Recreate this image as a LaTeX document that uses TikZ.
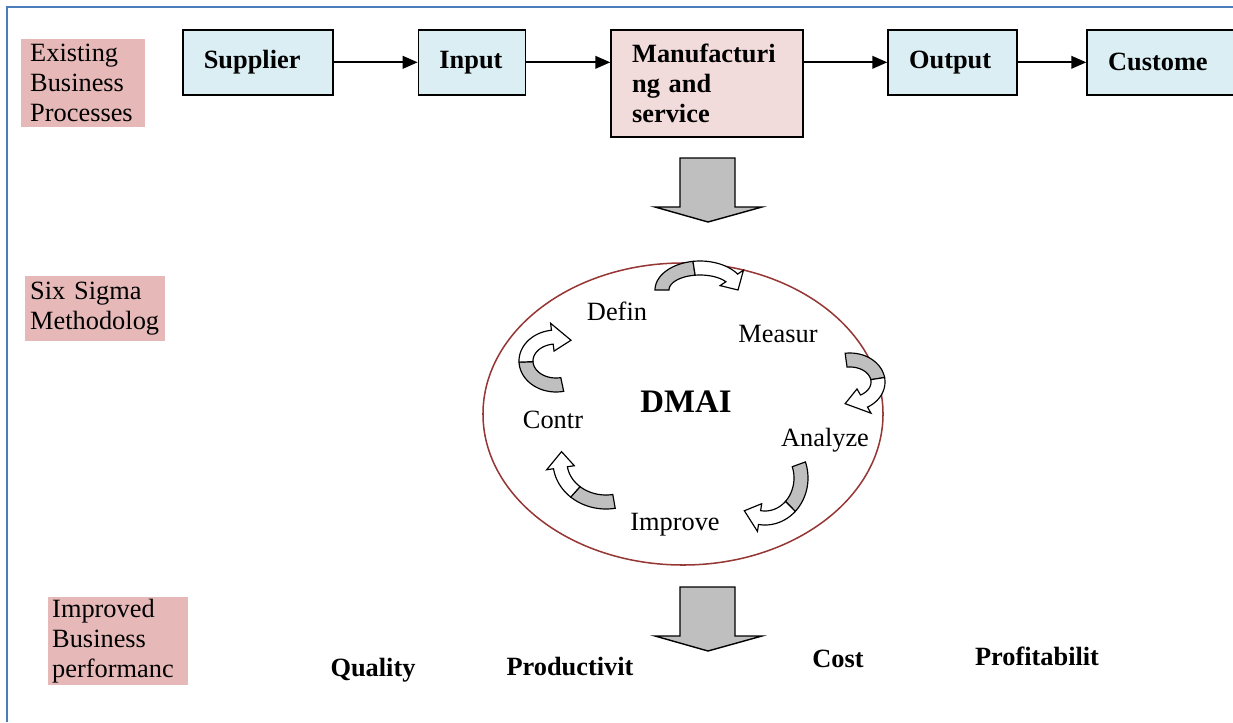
\documentclass[tikz,border=0pt]{standalone}
\usepackage{fontspec}
\setmainfont{Liberation Serif}
\usetikzlibrary{arrows.meta,positioning,shapes.geometric}
\definecolor{lblpink}{HTML}{E6B9B8}
\definecolor{procblue}{HTML}{DBEEF4}
\definecolor{mfgpink}{HTML}{F2DCDB}
\definecolor{ellred}{HTML}{953735}
\definecolor{framblue}{HTML}{4A7EBB}
\definecolor{arrgray}{HTML}{BFBFBF}
\newcommand{\basefont}{\fontsize{22.5}{25.6}\selectfont}
\tikzset{
  procblk/.style={draw,rectangle,line width=1.4pt,fill=procblue,font=\basefont\bfseries,align=left,anchor=north west,inner xsep=0.63cm,minimum height=1.95cm},
  mfgblk/.style={procblk,fill=mfgpink,minimum height=3.21cm},
  lblblk/.style={fill=lblpink,align=left,anchor=north west,inner ysep=0pt},
  arr/.style={-{Triangle[length=0.45cm,width=0.38cm]},line width=1.5pt},
  bigarr/.style={fill=arrgray,draw=black,line width=1.2pt},
  ribgray/.style={fill=arrgray,draw=black,line width=1pt},
  ribwhite/.style={fill=white,draw=black,line width=1pt},
  stage/.style={inner sep=1pt},
  res/.style={font=\basefont\bfseries,inner sep=1pt},
  frame/.style={draw=framblue,line width=1.6pt}
}
% curved ribbon arrow: centre x, centre y, start angle, end angle, x radius, y radius
\newcommand{\ribarrow}[6]{%
  \pgfmathsetmacro{\rbm}{#3+0.45*(#4-#3)}%
  \pgfmathsetmacro{\rbe}{#4-2000/(#5+#6)}%
  \path[ribgray] plot[domain=#3:\rbm,samples=20,variable=\t] ({#1+(#5+7)*cos(\t)},{#2+(#6+7)*sin(\t)})
    -- plot[domain=\rbm:#3,samples=20,variable=\t] ({#1+(#5-7)*cos(\t)},{#2+(#6-7)*sin(\t)}) -- cycle;
  \path[ribwhite] plot[domain=\rbm:\rbe,samples=20,variable=\t] ({#1+(#5+7)*cos(\t)},{#2+(#6+7)*sin(\t)})
    -- ({#1+(#5+14)*cos(\rbe)},{#2+(#6+14)*sin(\rbe)})
    -- ({#1+#5*cos(#4)},{#2+#6*sin(#4)})
    -- ({#1+(#5-14)*cos(\rbe)},{#2+(#6-14)*sin(\rbe)})
    -- plot[domain=\rbe:\rbm,samples=20,variable=\t] ({#1+(#5-7)*cos(\t)},{#2+(#6-7)*sin(\t)}) -- cycle;
}
\begin{document}
\begin{tikzpicture}[x=0.03cm,y=-0.03cm,font=\basefont]
  \clip (0,0) rectangle (1233,722);
  \draw[frame] (7,722) -- (7,7) -- (1233,7);

  % row labels
  \node[lblblk,inner xsep=0.27cm,text width=3.18cm,minimum height=2.64cm] (lexist) at (21,39) {Existing\\Business\\Processes};
  \node[lblblk,inner xsep=0.15cm,text width=3.9cm,minimum height=1.95cm] (lsigma) at (25,276) {Six Sigma\\Methodolog};
  \node[lblblk,inner xsep=0.12cm,text width=3.96cm,minimum height=2.64cm] (limpr) at (48,597) {Improved\\Business\\performanc};

  % process chain
  \node[procblk,text width=3.24cm] (sup) at (182,29) {Supplier};
  \node[procblk,text width=1.95cm,right=2.52cm of sup.north east,anchor=north west] (inp) {Input};
  \node[mfgblk,text width=4.5cm,right=2.52cm of inp.north east,anchor=north west] (mfg) {Manufacturi\\ng and\\service};
  \node[procblk,text width=2.61cm,right=2.5cm of mfg.north east,anchor=north west] (out) {Output};
  \node[procblk,text width=3.24cm,right=2.05cm of out.north east,anchor=north west] (cus) {Custome};

  \draw[arr] (sup) -- (inp);
  \draw[arr] (inp.east) -- (inp.east -| mfg.west);
  \draw[arr] (mfg.east |- out.west) -- (out.west);
  \draw[arr] (out) -- (cus);

  % block arrows
  \foreach \yy in {158,587}
    \draw[bigarr] (680,\yy) -- ++(55,0) -- ++(0,49) -- ++(27,0) -- ++(-54,15) -- ++(-53,-15) -- ++(25,0) -- cycle;

  % DMAIC cycle
  \node[ellipse,draw=ellred,line width=1.3pt,minimum width=12cm,minimum height=9.06cm,inner sep=0pt] (cyc) at (683,414) {};
  \node[font=\fontsize{28}{32}\selectfont\bfseries] (dmai) at (686,402) {DMAI};
  \node[stage] (def) at (617,311) {Defin};
  \node[stage] (mea) at (778,334) {Measur};
  \node[stage] (ana) at (825,440) {Analyze};
  \node[stage] (imp) at (675,525) {Improve};
  \node[stage] (con) at (553,420) {Contr};

  \ribarrow{700}{290}{180}{360}{38}{22}
  \ribarrow{850}{382}{262}{460}{28}{22}
  \ribarrow{765}{478}{-20}{125}{36}{40}
  \ribarrow{606}{462}{80}{195}{46}{40}
  \ribarrow{556}{361}{78}{300}{30}{24}

  % results
  \node[res] (qual) at (373,670) {Quality};
  \node[res] (prod) at (570,667) {Productivit};
  \node[res] (cost) at (838,659) {Cost};
  \node[res] (prof) at (1037,656) {Profitabilit};
\end{tikzpicture}
\end{document}
